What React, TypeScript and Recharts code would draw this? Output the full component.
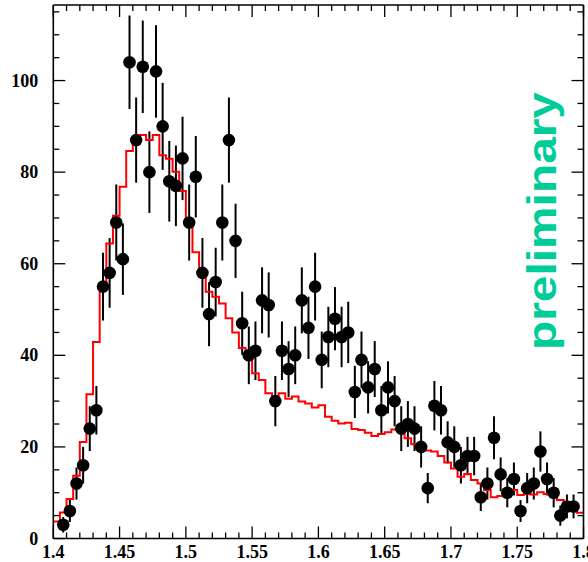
import React from 'react';
import { ComposedChart, Scatter, Line, XAxis, YAxis, ErrorBar } from 'recharts';

// Histogram (red, simulation) — 80 bins of width 0.005 from 1.4 to 1.8
const binStart = 1.4;
const binWidth = 0.005;
const histValues = [
  3.7, 5.7, 8.6, 13.7, 21.1, 31.5, 42.9, 55.0, 64.4, 70.5,
  76.8, 84.6, 86.1, 88.1, 87.0, 88.1, 83.7, 82.9, 80.1, 75.9,
  69.5, 62.5, 58.5, 53.9, 52.8, 51.3, 48.1, 45.0, 41.6, 39.4,
  36.1, 34.6, 31.7, 31.0, 31.7, 30.5, 31.0, 29.9, 29.5, 28.6,
  29.1, 26.6, 25.7, 25.1, 25.3, 23.9, 23.7, 23.1, 22.4, 22.8,
  23.2, 23.8, 24.3, 21.9, 20.6, 20.0, 19.2, 19.0, 18.0, 16.6,
  15.3, 13.5, 14.1, 12.8, 12.0, 10.6, 9.0, 9.3, 9.9, 10.6,
  9.5, 9.7, 9.6, 10.1, 9.7, 9.3, 8.4, 7.1, 6.1, 5.6,
];

// Data points (black), starting in bin 1
const firstPointBin = 1;
const pointValues = [
  3, 6, 12, 16, 24, 28, 55, 58, 69, 61,
  104, 87, 103, 80, 102, 90, 78, 77, 83, 69,
  79, 58, 49, 56, 69, 87, 65, 47, 40, 41,
  52, 51, 30, 41, 37, 40, 52, 46, 55, 39,
  44, 48, 44, 45, 32, 39, 33, 37, 28, 33,
  30, 24, 25, 24, 20, 11, 29, 28, 21, 20,
  16, 18, 18, 9, 12, 22, 14, 10, 13, 6,
  11, 12, 19, 13, 10, 5, 7, 7,
];
const pointErrors = [
  1.7, 2.4, 3.5, 4.0, 4.9, 5.3, 7.4, 7.6, 8.3, 7.8,
  10.2, 9.3, 10.1, 8.9, 10.1, 9.5, 8.8, 8.8, 9.1, 8.3,
  8.9, 7.6, 7.0, 7.5, 8.3, 9.3, 8.1, 6.9, 6.3, 6.4,
  7.2, 7.1, 5.5, 6.4, 6.1, 6.3, 7.2, 6.8, 7.4, 6.2,
  6.6, 6.9, 6.6, 6.7, 5.7, 6.2, 5.7, 6.1, 5.3, 5.7,
  5.5, 4.9, 5.0, 4.9, 4.5, 3.3, 5.4, 5.3, 4.6, 4.5,
  4.0, 4.2, 4.2, 3.0, 3.5, 4.7, 3.7, 3.2, 3.6, 2.4,
  3.3, 3.5, 4.4, 3.6, 3.2, 2.2, 2.6, 2.6,
];

const xMajorTicks = [1.4, 1.45, 1.5, 1.55, 1.6, 1.65, 1.7, 1.75, 1.8];
const xTickLabels = ['1.4', '1.45', '1.5', '1.55', '1.6', '1.65', '1.7', '1.75', '1.8'];
const xMinorTicks = [
  1.41, 1.42, 1.43, 1.44, 1.46, 1.47, 1.48, 1.49, 1.51, 1.52, 1.53, 1.54,
  1.56, 1.57, 1.58, 1.59, 1.61, 1.62, 1.63, 1.64, 1.66, 1.67, 1.68, 1.69,
  1.71, 1.72, 1.73, 1.74, 1.76, 1.77, 1.78, 1.79,
];
const yMajorTicks = [0, 20, 40, 60, 80, 100];
const yTickLabels = ['0', '20', '40', '60', '80', '100'];
const yMinorTicks = [5, 10, 15, 25, 30, 35, 45, 50, 55, 65, 70, 75, 85, 90, 95, 105, 110, 115];

const xDomain = [1.4, 1.8];
const yDomain = [0, 116.5];

const round = (v: number) => Number(v.toFixed(5));

const histData = histValues.map((v, k) => ({ x: round(binStart + k * binWidth), y: v }));
histData.push({ x: round(binStart + histValues.length * binWidth), y: histValues[histValues.length - 1] });

const pointData = pointValues.map((v, i) => ({
  x: round(binStart + (i + firstPointBin + 0.5) * binWidth),
  y: v,
  err: pointErrors[i],
}));

const allXTicks = [...xMajorTicks, ...xMinorTicks].sort((a, b) => a - b);
const allYTicks = [...yMajorTicks, ...yMinorTicks].sort((a, b) => a - b);

const labelFont = '"Liberation Serif", "Times New Roman", serif';
const TICK_W = 1.3;

const findIdx = (arr: number[], v: number) => arr.findIndex((t) => Math.abs(t - v) < 1e-6);

const XTickBottom = (props: any) => {
  const { x, y, payload } = props;
  const idx = findIdx(xMajorTicks, payload.value);
  const major = idx >= 0;
  return (
    <g>
      <line x1={x} x2={x} y1={y} y2={y - (major ? 12 : 6)} stroke="#000" strokeWidth={TICK_W} />
      {major && (
        <text x={x} y={y + 19} textAnchor="middle" fontFamily={labelFont} fontWeight="bold" fontSize={18} fill="#000">
          {xTickLabels[idx]}
        </text>
      )}
    </g>
  );
};

const XTickTop = (props: any) => {
  const { x, y, payload } = props;
  const major = findIdx(xMajorTicks, payload.value) >= 0;
  return <line x1={x} x2={x} y1={y} y2={y + (major ? 12 : 6)} stroke="#000" strokeWidth={TICK_W} />;
};

const YTickLeft = (props: any) => {
  const { x, y, payload } = props;
  const idx = findIdx(yMajorTicks, payload.value);
  const major = idx >= 0;
  return (
    <g>
      <line x1={x} x2={x + (major ? 12 : 6)} y1={y} y2={y} stroke="#000" strokeWidth={TICK_W} />
      {major && (
        <text x={x - 15} y={y + 6} textAnchor="end" fontFamily={labelFont} fontWeight="bold" fontSize={18} fill="#000">
          {yTickLabels[idx]}
        </text>
      )}
    </g>
  );
};

const YTickRight = (props: any) => {
  const { x, y, payload } = props;
  const major = findIdx(yMajorTicks, payload.value) >= 0;
  return <line x1={x} x2={x - (major ? 12 : 6)} y1={y} y2={y} stroke="#000" strokeWidth={TICK_W} />;
};

const Dot = (props: any) => {
  const { cx, cy } = props;
  if (cx == null || cy == null) return null;
  return <circle cx={cx} cy={cy} r={6.3} fill="#000" />;
};

const axisLine = { stroke: '#000', strokeWidth: 1.6 };

export default function App() {
  return (
    <div style={{ position: 'absolute', left: 0, top: 0, width: 588, height: 562, background: '#fff' }}>
      <ComposedChart
        width={588}
        height={562}
        margin={{ top: 4, right: 3.5, bottom: 22.5, left: 52.3 }}
      >
        <XAxis
          dataKey="x"
          type="number"
          domain={xDomain}
          allowDataOverflow
          ticks={allXTicks}
          interval={0}
          height={1}
          tickSize={0}
          tickMargin={0}
          tickLine={false}
          axisLine={axisLine}
          tick={<XTickBottom />}
        />
        <XAxis
          xAxisId="top"
          dataKey="x"
          orientation="top"
          type="number"
          domain={xDomain}
          allowDataOverflow
          ticks={allXTicks}
          interval={0}
          height={1}
          tickSize={0}
          tickMargin={0}
          tickLine={false}
          axisLine={axisLine}
          tick={<XTickTop />}
        />
        <YAxis
          type="number"
          domain={yDomain}
          allowDataOverflow
          ticks={allYTicks}
          interval={0}
          width={1}
          tickSize={0}
          tickMargin={0}
          tickLine={false}
          axisLine={axisLine}
          tick={<YTickLeft />}
        />
        <YAxis
          yAxisId="right"
          orientation="right"
          type="number"
          domain={yDomain}
          allowDataOverflow
          ticks={allYTicks}
          interval={0}
          width={1}
          tickSize={0}
          tickMargin={0}
          tickLine={false}
          axisLine={axisLine}
          tick={<YTickRight />}
        />
        <Scatter data={pointData} dataKey="y" shape={<Dot />} isAnimationActive={false}>
          <ErrorBar dataKey="err" direction="y" width={0} stroke="#000" strokeWidth={2} />
        </Scatter>
        <Line
          data={histData}
          dataKey="y"
          type="stepAfter"
          stroke="#ff0000"
          strokeWidth={2}
          dot={false}
          activeDot={false}
          isAnimationActive={false}
        />
      </ComposedChart>
      <svg
        width={588}
        height={562}
        style={{ position: 'absolute', left: 0, top: 0, pointerEvents: 'none' }}
      >
        <text
          x={556}
          y={221}
          transform="rotate(-90 556 221)"
          textAnchor="middle"
          fontFamily='"Liberation Sans", Arial, sans-serif'
          fontWeight="bold"
          fontSize={41}
          fill="#00cc99"
          textLength={258}
          lengthAdjust="spacingAndGlyphs"
        >
          preliminary
        </text>
      </svg>
    </div>
  );
}
